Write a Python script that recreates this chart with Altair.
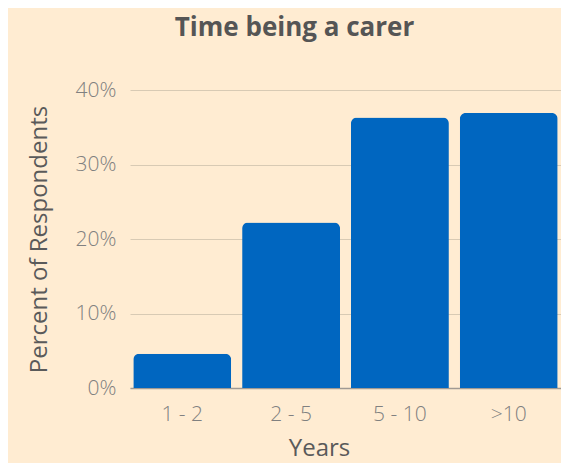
import altair as alt
import pandas as pd

categories = ["1 - 2", "2 - 5", "5 - 10", ">10"]
values = [4.6, 22.2, 36.3, 36.9]

df = pd.DataFrame({"Years": categories, "Percent": [v / 100 for v in values]})

chart = alt.Chart(df).mark_bar(
    color="#0066C0", cornerRadiusTopLeft=6, cornerRadiusTopRight=6
).encode(
    x=alt.X("Years:N", sort=categories,
            scale=alt.Scale(paddingInner=0.1, paddingOuter=0.03),
            axis=alt.Axis(title="Years", labelAngle=0, labelFontSize=21, labelColor="#808080",
                          labelFont="Open Sans", labelFontWeight=300, labelPadding=15,
                          ticks=False, domainColor="#a09a94", domainWidth=1.5,
                          titleFontSize=24, titleColor="#5a5a5a", titleFont="Open Sans",
                          titleFontWeight="normal", titlePadding=12, titleX=189)),
    y=alt.Y("Percent:Q", scale=alt.Scale(domain=[0, 0.4]),
            axis=alt.Axis(title="Percent of Respondents", format="%", values=[0, 0.1, 0.2, 0.3, 0.4],
                          labelFontSize=21, labelColor="#808080", labelFont="Open Sans",
                          labelFontWeight=300, labelPadding=14, ticks=False, domain=False,
                          gridColor="#d8cab4", gridWidth=1,
                          titleFontSize=24, titleColor="#5a5a5a", titleFont="Open Sans",
                          titleFontWeight="normal", titlePadding=24)),
).properties(
    width=431, height=298,
    background="#FFECD2",
    autosize=alt.AutoSizeParams(type="none"),
    padding={"left": 122, "top": 82, "right": 0, "bottom": 75},
    title=alt.Title("Time being a carer", fontSize=26, font="Open Sans", fontWeight="bold",
                    color="#555555", anchor="middle", dx=-51, offset=38),
).configure_view(stroke=None)

chart.save("out.html", embed_options={"renderer": "svg", "actions": False})
